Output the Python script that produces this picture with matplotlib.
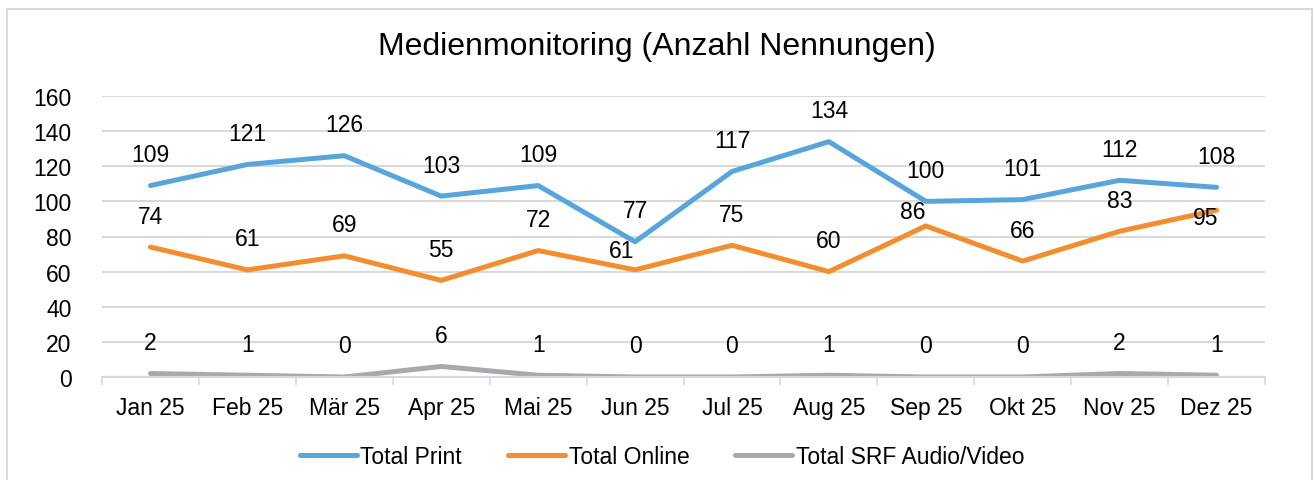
import matplotlib.pyplot as plt
from matplotlib.patches import Rectangle
from matplotlib.ticker import FixedLocator

plt.rcParams['font.family'] = ['Liberation Sans', 'DejaVu Sans']

months = ["Jan 25", "Feb 25", "Mär 25", "Apr 25", "Mai 25", "Jun 25",
          "Jul 25", "Aug 25", "Sep 25", "Okt 25", "Nov 25", "Dez 25"]
total_print = [109, 121, 126, 103, 109, 77, 117, 134, 100, 101, 112, 108]
total_online = [74, 61, 69, 55, 72, 61, 75, 60, 86, 66, 83, 95]
total_srf = [2, 1, 0, 6, 1, 0, 0, 1, 0, 0, 2, 1]

series = [
    ("Total Print", total_print, "#58A5DC"),
    ("Total Online", total_online, "#F28E30"),
    ("Total SRF Audio/Video", total_srf, "#A7A9AC"),
]

# labels that were nudged to avoid colliding with the line above (offset in px)
nudged = {("Total Online", 5): (-13, 19),
          ("Total Online", 8): (-13, 14),
          ("Total Online", 11): (-11, -7)}

fig = plt.figure(figsize=(13.14, 4.81), dpi=100)
fig.patch.set_facecolor("white")

# light frame round the chart area
fig.patches.append(Rectangle((7 / 1314, -0.05), 1305 / 1314, 1 - 10 / 481 + 0.05,
                             transform=fig.transFigure, fill=False,
                             edgecolor="#D9D9D9", linewidth=1.5))

ax = fig.add_axes([102 / 1314, 103 / 481, 1163 / 1314, 281 / 481])
x = list(range(len(months)))

for name, values, color in series:
    ax.plot(x, values, color=color, linewidth=3.6, label=name,
            solid_capstyle="round", solid_joinstyle="round")
    for xi, v in zip(x, values):
        dx, dy = nudged.get((name, xi), (0, 31))
        ax.annotate(str(v), (xi, v), xytext=(dx * 0.72, dy * 0.72),
                    textcoords="offset points",
                    ha="center", va="center", fontsize=16.5, color="black")

ax.set_xlim(-0.5, len(months) - 0.5)
ax.set_ylim(0, 160)
ax.set_yticks(range(0, 161, 20))
ax.set_xticks(x)
ax.set_xticklabels(months)
ax.xaxis.set_minor_locator(FixedLocator([i - 0.5 for i in range(len(months) + 1)]))
ax.tick_params(axis="x", which="major", length=0, pad=14, labelsize=16.5)
ax.tick_params(axis="x", which="minor", length=6, color="#D9D9D9", width=1.2)
ax.tick_params(axis="y", length=0, pad=22, labelsize=16.5)

ax.grid(axis="y", color="#D9D9D9", linewidth=1.5)
ax.set_axisbelow(True)
for side in ["top", "right", "left"]:
    ax.spines[side].set_visible(False)
ax.spines["bottom"].set_color("#D9D9D9")
ax.spines["bottom"].set_linewidth(1.5)

fig.text(657 / 1314, 1 - 47 / 481, "Medienmonitoring (Anzahl Nennungen)",
         ha="center", va="center", fontsize=23)

fig.legend(loc="center", bbox_to_anchor=(662 / 1314, 1 - 458 / 481), ncol=3,
           frameon=False, fontsize=16.5, handlelength=2.5, handletextpad=0.15,
           columnspacing=2.0)

fig.savefig("out.png", dpi=100)
